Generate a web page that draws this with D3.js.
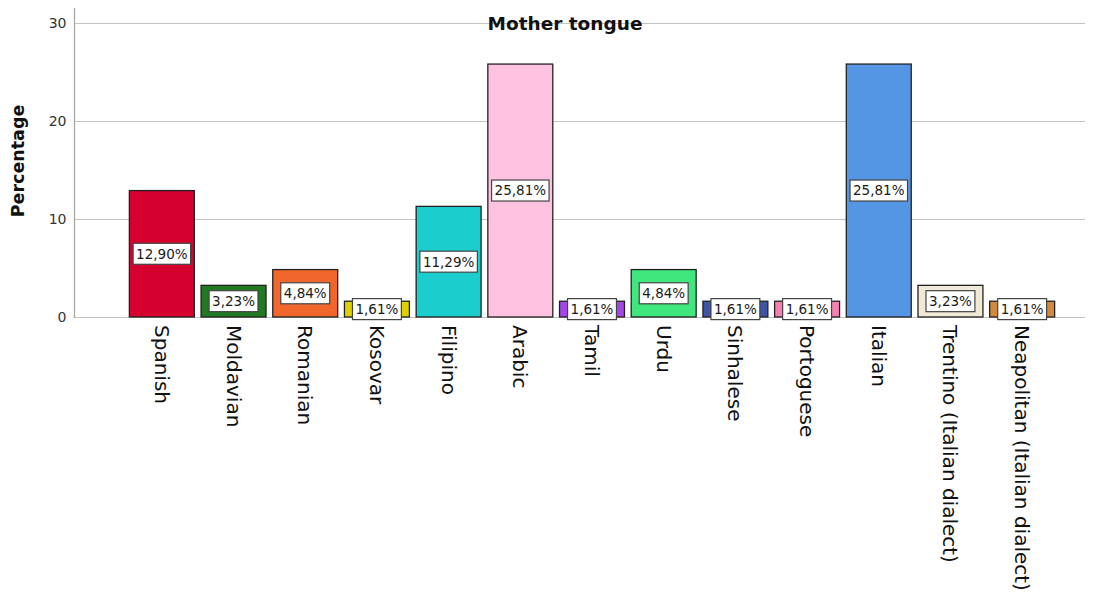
<!DOCTYPE html>
<html>
<head>
<meta charset="utf-8">
<script src="https://cdn.jsdelivr.net/npm/d3@7"></script>
<style>
  html, body { margin: 0; padding: 0; background: #fff; }
  svg { display: block; font-family: "DejaVu Sans", sans-serif; }
</style>
</head>
<body>
<svg id="chart" width="1102" height="599"></svg>
<script>
// Mother tongue distribution (percentage of respondents)
const categories = ["Spanish", "Moldavian", "Romanian", "Kosovar", "Filipino", "Arabic", "Tamil",
  "Urdu", "Sinhalese", "Portoguese", "Italian", "Trentino (Italian dialect)", "Neapolitan (Italian dialect)"];
const percentages = [12.90, 3.23, 4.84, 1.61, 11.29, 25.81, 1.61, 4.84, 1.61, 1.61, 25.81, 3.23, 1.61];
const barColors = ["#d6002f", "#217a22", "#f1672b", "#e0d000", "#1bcdcd", "#fec2e1", "#a447e9",
  "#3fe77d", "#3c55a6", "#f580b1", "#5596e4", "#efe9d6", "#d4883b"];
const yTicks = [0, 10, 20, 30];

const svg = d3.select("#chart");
const plot = { left: 74, right: 1085, top: 8, bottom: 317 };

const y = d3.scaleLinear().domain([0, 30]).range([plot.bottom, 23]);
const x = d3.scaleBand().domain(categories).range([126, 1058]).paddingInner(0.094).paddingOuter(0.047);

// gridlines
svg.append("g").selectAll("line").data(yTicks).join("line")
  .attr("x1", plot.left).attr("x2", plot.right)
  .attr("y1", d => Math.round(y(d)) + 0.5).attr("y2", d => Math.round(y(d)) + 0.5)
  .attr("stroke", "#c4c4c4").attr("stroke-width", 1.2);

// y axis
const yAxis = d3.axisLeft(y).tickValues(yTicks).tickSize(0).tickPadding(8);
const gy = svg.append("g").attr("transform", `translate(${plot.left + 0.5},0)`).call(yAxis);
gy.select(".domain").attr("d", `M0,${plot.top}V${plot.bottom + 1}`).attr("stroke", "#a8a8a8").attr("stroke-width", 1.3);
gy.selectAll(".tick text").attr("font-size", 14).attr("fill", "#333").attr("font-family", "DejaVu Sans, sans-serif");

// bars
svg.append("g").selectAll("rect").data(categories).join("rect")
  .attr("x", d => x(d))
  .attr("y", (d, i) => y(percentages[i]))
  .attr("width", x.bandwidth())
  .attr("height", (d, i) => y(0) - y(percentages[i]))
  .attr("fill", (d, i) => barColors[i])
  .attr("stroke", "#222").attr("stroke-width", 1.3);

// value labels in boxes at bar mid-height
const fmt = v => v.toFixed(2).replace(".", ",") + "%";
const lbl = svg.append("g").selectAll("g").data(categories).join("g")
  .attr("transform", (d, i) => `translate(${x(d) + x.bandwidth() / 2},${(y(percentages[i]) + y(0)) / 2})`);
lbl.each(function(d, i) {
  const g = d3.select(this);
  const t = g.append("text").text(fmt(percentages[i]))
    .attr("text-anchor", "middle").attr("dy", "0.36em")
    .attr("font-size", 13.5).attr("fill", "#1a1a1a");
  const w = t.node().getComputedTextLength() + 6;
  g.insert("rect", "text")
    .attr("x", -w / 2).attr("y", -10.5).attr("width", w).attr("height", 21)
    .attr("fill", "#fff").attr("stroke", "#444").attr("stroke-width", 1.2);
});

// category labels, rotated
svg.append("g").selectAll("text").data(categories).join("text")
  .attr("transform", d => `translate(${x(d) + x.bandwidth() / 2},${plot.bottom + 8}) rotate(90)`)
  .attr("dy", "0.35em")
  .attr("font-size", 20).attr("fill", "#111")
  .text(d => d);

// title
svg.append("text").attr("x", 565).attr("y", 30).attr("text-anchor", "middle")
  .attr("font-size", 18.5).attr("font-weight", "bold").attr("fill", "#111")
  .text("Mother tongue");

// y axis title
svg.append("text").attr("transform", "translate(24,161) rotate(-90)")
  .attr("text-anchor", "middle")
  .attr("font-size", 17.5).attr("font-weight", "bold").attr("fill", "#111")
  .text("Percentage");
</script>
</body>
</html>
